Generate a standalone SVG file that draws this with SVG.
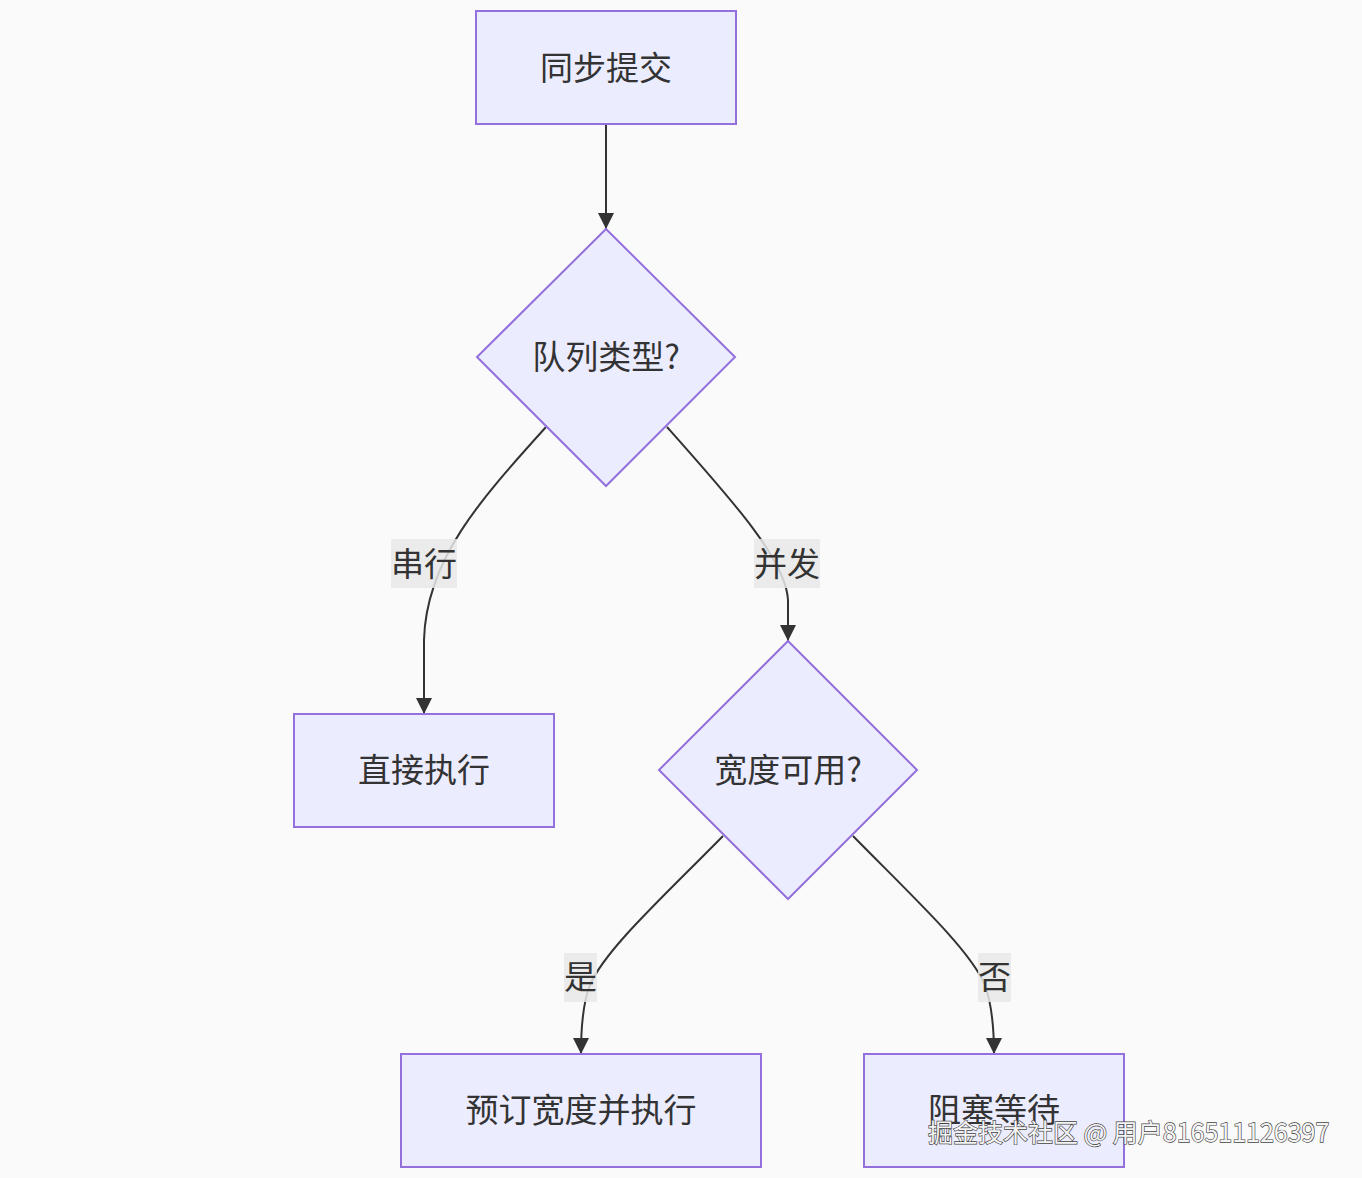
<svg xmlns="http://www.w3.org/2000/svg" width="1362" height="1178" viewBox="0 0 1362 1178">
<defs>
<style>
.node rect,.node polygon{fill:#ECECFF;stroke:#9370DB;stroke-width:2}
.node text{font-family:"Noto Sans CJK SC","Noto Sans",sans-serif;font-size:33px;fill:#333;text-anchor:middle;dominant-baseline:central}
.edge{fill:none;stroke:#333;stroke-width:2}
.lbl rect{fill:#e8e8e8;fill-opacity:0.85}
.lbl text{font-family:"Noto Sans CJK SC","Noto Sans",sans-serif;font-size:33px;fill:#333;text-anchor:middle;dominant-baseline:central}
.wm{font-family:"Noto Sans CJK SC","Noto Sans",sans-serif;font-size:25px;fill:#f4f4f4;stroke:#444;stroke-width:1.3;paint-order:stroke}
</style>
<marker id="arr" viewBox="0 0 10 10" refX="10" refY="5" markerUnits="userSpaceOnUse" markerWidth="16" markerHeight="16" orient="auto">
<path d="M0,0 L10,5 L0,10 z" fill="#333"/>
</marker>
</defs>
<rect width="1362" height="1178" fill="#fafafa"/>
<g id="connectors">
<path class="edge" d="M606,124 L606,229" marker-end="url(#arr)"/>
<path class="edge" d="M546,427 C480,500 426,560 424,640 L424,714" marker-end="url(#arr)"/>
<path class="edge" d="M667,427 C732,500 786,560 788,600 L788,641" marker-end="url(#arr)"/>
<path class="edge" d="M723,836 C660,900 605,950 590,985 C582,1005 581,1030 581,1054" marker-end="url(#arr)"/>
<path class="edge" d="M853,836 C916,900 970,950 985,985 C992,1005 994,1030 994,1054" marker-end="url(#arr)"/>
</g>
<g id="labels">
<g class="lbl"><rect x="391" y="539" width="66" height="49"/><text x="424" y="562">串行</text></g>
<g class="lbl"><rect x="754" y="539" width="66" height="49"/><text x="787" y="562">并发</text></g>
<g class="lbl"><rect x="564" y="953" width="33" height="49"/><text x="580.5" y="975">是</text></g>
<g class="lbl"><rect x="978" y="953" width="33" height="49"/><text x="994.5" y="975">否</text></g>
</g>
<g id="n1" class="node"><rect x="476" y="11" width="260" height="113"/><text x="606" y="66">同步提交</text></g>
<g id="n2" class="node"><polygon points="606,229 735,357 606,486 477,357"/><text x="606" y="355">队列类型?</text></g>
<g id="n3" class="node"><rect x="294" y="714" width="260" height="113"/><text x="424" y="768">直接执行</text></g>
<g id="n4" class="node"><polygon points="788,641 917,770 788,899 659,770"/><text x="788" y="768">宽度可用?</text></g>
<g id="n5" class="node"><rect x="401" y="1054" width="360" height="113"/><text x="581" y="1108">预订宽度并执行</text></g>
<g id="n6" class="node"><rect x="864" y="1054" width="260" height="113"/><text x="994" y="1108">阻塞等待</text></g>
<text class="wm" x="928" y="1142">掘金技术社区 @ 用户816511126397</text>
</svg>
